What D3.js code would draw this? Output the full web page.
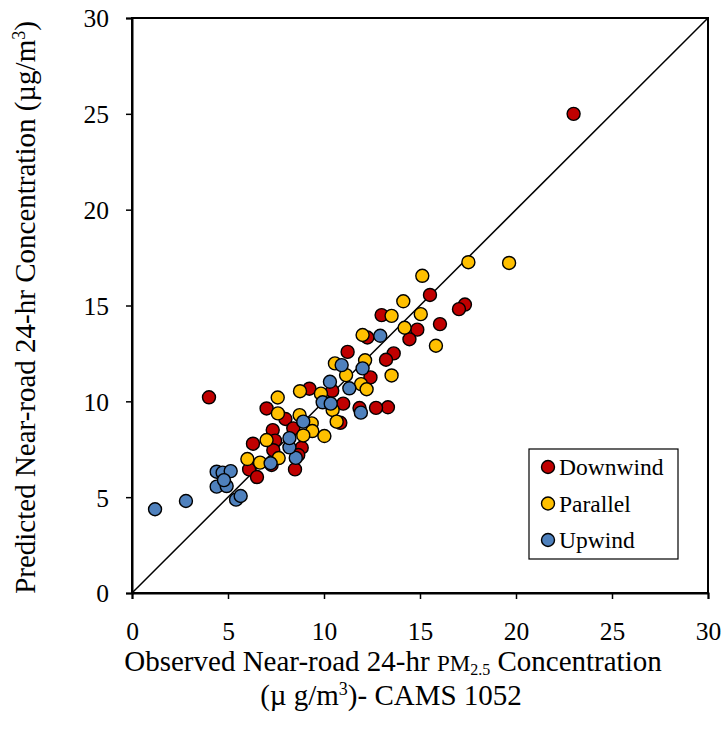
<!DOCTYPE html>
<html lang="en">
<head>
  <meta charset="UTF-8" />
  <title>Observed vs Predicted PM2.5</title>
  <style>
    body { margin: 0; background: #fff; }
    svg text { font-family: "Liberation Serif", "Times New Roman", serif !important; fill: #000; }
  </style>
</head>
<body>
  <svg id="chart" width="725" height="736"></svg>

  <script src="https://d3js.org/d3.v7.min.js"></script>
  <script>
    // [observed, predicted] pairs
    const downwind = [
      [23.0, 25.0], [17.34, 15.05], [17.03, 14.81], [16.04, 14.03], [15.52, 15.55],
      [14.86, 13.74], [14.45, 13.24], [13.0, 14.5], [13.63, 12.5], [13.23, 12.17],
      [12.26, 13.33], [11.23, 12.58], [12.42, 11.25], [13.33, 9.69], [12.71, 9.66],
      [11.85, 9.65], [11.0, 9.88], [10.43, 10.55], [9.24, 10.66], [10.85, 8.88],
      [4.01, 10.21], [7.01, 9.63], [7.99, 9.08], [8.4, 8.59], [7.33, 8.5],
      [7.45, 7.95], [8.84, 7.58], [7.36, 7.45], [6.3, 7.79], [6.1, 6.45],
      [6.51, 6.05], [8.49, 6.45], [7.27, 6.68], [8.66, 7.2]
    ];
    const parallel = [
      [17.52, 17.26], [19.64, 17.22], [15.12, 16.55], [14.13, 15.22], [15.04, 14.55],
      [13.52, 14.46], [14.2, 13.84], [15.83, 12.9], [12.01, 13.46], [13.52, 11.35],
      [12.14, 12.14], [10.57, 11.98], [11.15, 11.37], [11.93, 10.9], [12.22, 10.63],
      [8.75, 10.53], [9.84, 10.4], [10.45, 9.55], [7.59, 10.2], [7.6, 9.37],
      [8.73, 9.28], [9.36, 8.85], [9.39, 8.45], [10.02, 8.19], [10.66, 8.94],
      [8.92, 8.22], [7.01, 7.98], [6.01, 6.99], [6.67, 6.8], [7.64, 7.04]
    ];
    const upwind = [
      [1.2, 4.37], [2.81, 4.8], [4.41, 6.33], [4.72, 6.28], [5.14, 6.36],
      [4.41, 5.55], [4.93, 5.58], [4.79, 5.89], [5.42, 4.87], [5.66, 5.06],
      [7.22, 6.77], [8.53, 7.05], [8.2, 7.6], [8.2, 8.08], [8.92, 8.94],
      [9.93, 9.95], [10.35, 9.88], [10.31, 11.02], [11.32, 10.68], [11.92, 9.41],
      [10.92, 11.89], [12.01, 11.72], [12.93, 13.42]
    ];
    const seriesNames = ["Downwind", "Parallel", "Upwind"];
    const seriesColors = ["#C00000", "#FFC000", "#4F81BD"];
    const ticks = [0, 5, 10, 15, 20, 25, 30];

    const svg = d3.select("#chart");
    const plot = { left: 132, right: 708, top: 18, bottom: 593 };

    const x = d3.scaleLinear().domain([0, 30]).range([plot.left, plot.right]);
    const y = d3.scaleLinear().domain([0, 30]).range([plot.bottom, plot.top]);

    // frame
    svg.append("rect")
      .attr("x", plot.left).attr("y", plot.top)
      .attr("width", plot.right - plot.left).attr("height", plot.bottom - plot.top)
      .attr("fill", "none").attr("stroke", "#000").attr("stroke-width", 2);

    const xAxis = svg.append("g")
      .attr("transform", `translate(0,${plot.bottom})`)
      .call(d3.axisBottom(x).tickValues(ticks).tickSize(6).tickPadding(23));
    const yAxis = svg.append("g")
      .attr("transform", `translate(${plot.left},0)`)
      .call(d3.axisLeft(y).tickValues(ticks).tickSize(6).tickPadding(17));

    [xAxis, yAxis].forEach(g => {
      g.attr("font-size", 25.5);
      g.select(".domain").attr("stroke-width", 2);
      g.selectAll(".tick line").attr("stroke-width", 1.5);
    });
    xAxis.selectAll("text").attr("dy", "0.71em");
    yAxis.selectAll("text").attr("dy", "0.35em");

    // 1:1 line
    svg.append("line")
      .attr("x1", x(0)).attr("y1", y(0))
      .attr("x2", x(30)).attr("y2", y(30))
      .attr("stroke", "#000").attr("stroke-width", 1.5);

    [downwind, parallel, upwind].forEach((data, i) => {
      svg.append("g").selectAll("circle")
        .data(data)
        .join("circle")
        .attr("cx", d => x(d[0]))
        .attr("cy", d => y(d[1]))
        .attr("r", 6.5)
        .attr("fill", seriesColors[i])
        .attr("stroke", "#000")
        .attr("stroke-width", 1.4);
    });

    // legend
    const legend = svg.append("g");
    legend.append("rect")
      .attr("x", 529).attr("y", 449)
      .attr("width", 149).attr("height", 110)
      .attr("fill", "#fff").attr("stroke", "#000").attr("stroke-width", 1.2);
    seriesNames.forEach((name, i) => {
      const cy = 467 + i * 36.5;
      legend.append("circle")
        .attr("cx", 548).attr("cy", cy).attr("r", 6.5)
        .attr("fill", seriesColors[i]).attr("stroke", "#000").attr("stroke-width", 1.4);
      legend.append("text")
        .attr("x", 559).attr("y", cy).attr("dy", "0.35em")
        .attr("font-size", 23.5).text(name);
    });

    // axis titles
    const xt = svg.append("text")
      .attr("x", 393).attr("y", 671)
      .attr("text-anchor", "middle").attr("font-size", 29);
    xt.append("tspan").text("Observed Near-road 24-hr ");
    xt.append("tspan").attr("font-size", 23).text("PM");
    xt.append("tspan").attr("font-size", 16).attr("dy", 4).text("2.5");
    xt.append("tspan").attr("dy", -4).text(" Concentration");

    const xt2 = svg.append("text")
      .attr("x", 391).attr("y", 705)
      .attr("text-anchor", "middle").attr("font-size", 29);
    xt2.append("tspan").text("(µ g/m");
    xt2.append("tspan").attr("font-size", 18).attr("dy", -10).text("3");
    xt2.append("tspan").attr("dy", 10).text(")- CAMS 1052");

    const yt = svg.append("text")
      .attr("transform", `translate(35,${(plot.top + plot.bottom) / 2 + 2}) rotate(-90)`)
      .attr("text-anchor", "middle").attr("font-size", 29);
    yt.append("tspan").text("Predicted  Near-road 24-hr Concentration (µg/m");
    yt.append("tspan").attr("font-size", 18).attr("dy", -10).text("3");
    yt.append("tspan").attr("dy", 10).text(")");
  </script>
</body>
</html>
